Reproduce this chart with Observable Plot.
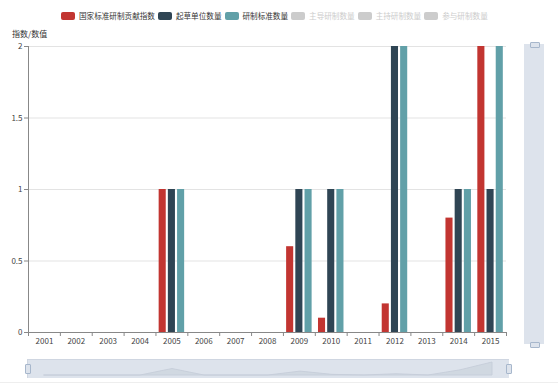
<!DOCTYPE html>
<html><head><meta charset="utf-8">
<script src="https://cdn.jsdelivr.net/npm/d3@7"></script>
<script src="https://cdn.jsdelivr.net/npm/@observablehq/plot@0.6"></script>
<style>
body{margin:0;background:#fff;font-family:"Noto Sans CJK SC","Noto Sans",sans-serif;}
#wrap{position:relative;width:558px;height:386px;overflow:hidden;}
#wrap svg{position:absolute;left:0;top:0;}
#legend{position:absolute;top:11px;left:61px;display:flex;gap:3px;font-size:7.6px;line-height:10px;white-space:nowrap;}
.item{display:flex;align-items:center;gap:4px;}
.sw{width:14px;height:8px;border-radius:2px;display:inline-block;}
#ytitle{position:absolute;left:12px;top:28px;font-size:8px;color:#333;}
#rslider{position:absolute;left:524px;top:44px;width:20px;height:300px;background:#dde3ec;}
.hh{position:absolute;width:8px;height:4px;border:1px solid #a7b7cc;background:#dde3ec;border-radius:1px;}
#bottomline{position:absolute;left:0;top:382px;width:558px;height:1px;background:#eee;}
</style></head>
<body><div id="wrap"><div id="ytitle">指数/数值</div><div id="legend"></div><div id="rslider"></div><div id="bottomline"></div></div>
<script>
const years = ["2001","2002","2003","2004","2005","2006","2007","2008","2009","2010","2011","2012","2013","2014","2015"];
const seriesNames = ["国家标准研制贡献指数","起草单位数量","研制标准数量","主导研制数量","主持研制数量","参与研制数量"];
const indexValues = [0,0,0,0,1,0,0,0,0.6,0.1,0,0.2,0,0.8,2];
const draftUnits  = [0,0,0,0,1,0,0,0,1,1,0,2,0,1,1];
const standards   = [0,0,0,0,1,0,0,0,1,1,0,2,0,1,2];
const seriesColors = ["#c23531","#2f4554","#61a0a8","#ccc","#ccc","#ccc"];
const activeSeries = [true,true,true,false,false,false];
const yTicks = [0,0.5,1,1.5,2];

const wrap = document.getElementById("wrap");
const lg = document.getElementById("legend");
seriesNames.forEach((n,i)=>{
  const it = document.createElement("div"); it.className="item";
  it.innerHTML = `<span class="sw" style="background:${seriesColors[i]}"></span><span style="color:${activeSeries[i]?'#333':'#ccc'}">${n}</span>`;
  lg.appendChild(it);
});

const W=558,H=386,ML=28,MR=52,MT=46,MB=54;
const bw=(W-ML-MR)/years.length;
const barW=bw*0.8/3.6;
const inset=(bw-barW)/2;
const gapStep=barW*1.3;
const seriesData=[indexValues,draftUnits,standards].map((vals,s)=>years.map((y,i)=>({year:y,value:vals[i],series:seriesNames[s]})).filter(d=>d.value>0));

const bars = seriesData.map((data,s)=>Plot.barY(data,{x:"year",y:"value",fill:seriesColors[s],insetLeft:inset,insetRight:inset,dx:(s-1)*gapStep}));

const chart = Plot.plot({
  width:W,height:H,marginLeft:ML,marginRight:MR,marginTop:MT,marginBottom:MB,
  style:{fontFamily:'"Noto Sans CJK SC","Noto Sans",sans-serif',fontSize:"8px",color:"#444",background:"transparent"},
  x:{domain:years,padding:0,round:false,axis:null},
  y:{domain:[0,2],axis:null},
  marks:[
    Plot.gridY(yTicks.filter(t=>t>0),{stroke:"#e3e3e3",strokeOpacity:1}),
    ...bars,
    Plot.ruleY([0],{stroke:"#888"}),
    Plot.frame({anchor:"left",stroke:"#888"}),
    Plot.axisY({ticks:yTicks,tickSize:4,tickPadding:2,stroke:"#888",tickFormat:d=>String(d),label:null}),
    Plot.axisX({tickSize:0,tickPadding:6,label:null}),
    Plot.axisX({tickSize:4,text:null,dx:-bw/2,stroke:"#888",label:null}),
    Plot.axisX([years[years.length-1]],{tickSize:4,text:null,dx:bw/2,stroke:"#888",label:null})
  ]
});
wrap.insertBefore(chart, wrap.firstChild);

const slider = Plot.plot({
  width:482,height:19,margin:0,
  x:{domain:years,type:"point",axis:null},
  y:{domain:[0,2],range:[16,3],axis:null},
  style:{background:"#dde3ec"},
  marks:[
    Plot.areaY(years.map((y,i)=>({year:y,value:indexValues[i]})),{x:"year",y:"value",fill:"#cdd4df",fillOpacity:0.8,stroke:"#c4ccd8",strokeWidth:0.8}),
    Plot.frame({stroke:"#cfd6e1"})
  ]
});
slider.style.left="27px";slider.style.top="359px";
wrap.appendChild(slider);
[[27,364],[508,364]].forEach(([x,y])=>{const h=document.createElement("div");h.className="hh";h.style.left=(x-2)+"px";h.style.top=(y)+"px";h.style.width="4px";h.style.height="8px";wrap.appendChild(h);});
[[530,42],[530,342]].forEach(([x,y])=>{const h=document.createElement("div");h.className="hh";h.style.left=x+"px";h.style.top=y+"px";wrap.appendChild(h);});
</script></body></html>
